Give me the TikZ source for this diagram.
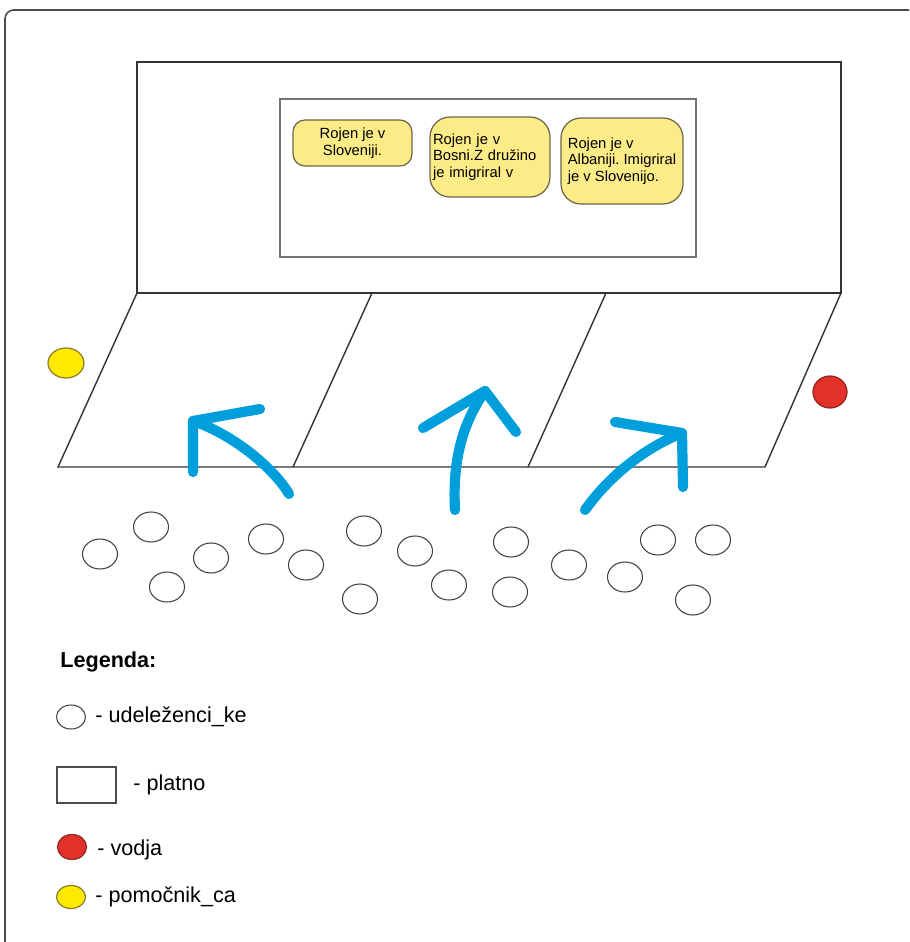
\documentclass[tikz,border=0pt]{standalone}
\usepackage{fontspec}
\setmainfont{Liberation Sans}
\definecolor{sweepblue}{RGB}{0,158,219}
\definecolor{notefill}{RGB}{252,236,135}
\definecolor{notedraw}{RGB}{110,100,70}
\definecolor{leaderred}{RGB}{226,48,42}
\definecolor{leaderdraw}{RGB}{140,40,32}
\definecolor{helperyellow}{RGB}{255,233,0}
\definecolor{helperdraw}{RGB}{140,125,40}
\frenchspacing
\begin{document}
\begin{tikzpicture}[x=0.02cm, y=-0.02cm,
    wall/.style={draw=black!80, line width=0.8pt},
    guest/.style={draw=black!75, line width=0.6pt},
    leader/.style={draw=leaderdraw, fill=leaderred, line width=0.7pt},
    helper/.style={draw=helperdraw, fill=helperyellow, line width=0.7pt},
    sweep/.style={draw=sweepblue, line width=5.8pt, line cap=round, line join=round},
    note/.style={draw=notedraw, fill=notefill, line width=0.7pt, inner ysep=0pt,
      font=\fontsize{8.4}{9.5}\selectfont},
    legend/.style={anchor=west, inner sep=0pt, font=\fontsize{12.3}{14}\selectfont}]
  \useasboundingbox (0,0) rectangle (909,942);
  \clip (0,0) rectangle (909,942);
  % outer frame
  \draw[black!70, line width=0.9pt, rounded corners=5pt] (5,10) rectangle (930,960);

  % back wall with the screen
  \draw[wall] (137,62) rectangle (841,293);
  \draw[black!55, line width=0.6pt] (280,99) rectangle (696,257);

  % notes on the screen
  \node[note, rounded corners=0.24cm, minimum width=2.38cm, minimum height=0.92cm,
    align=center] (slo) at (352.5,143) {Rojen je v\\ Sloveniji.};
  \node[note, rounded corners=0.4cm, minimum height=1.6cm, text width=2.28cm,
    inner xsep=0.06cm, align=left] (bih) at (490,157)
    {Rojen je v\\ Bosni.Z družino\\ je imigriral v};
  \node[note, rounded corners=0.4cm, minimum width=2.44cm, minimum height=1.72cm,
    align=left] (alb) at (622,161)
    {Rojen je v\\ Albaniji. Imigriral\\ je v Slovenijo.};

  % floor in three parts
  \draw[wall] (137,293) -- (841,293) -- (765,467) -- (58,467) -- cycle;
  \draw[wall] (372,293) -- (293,467);
  \draw[wall] (606,293) -- (528,467);

  % helper and leader
  \draw[helper] (66,363) ellipse [x radius=18, y radius=15];
  \draw[leader] (830,392) ellipse [x radius=17, y radius=16];

  % arrows
  \draw[sweep] (289,494) .. controls (275,470) and (235,435) .. (193,421);
  \draw[sweep] (260,409) -- (193,421) -- (193,472);
  \draw[sweep] (455,510) .. controls (452,455) and (465,420) .. (485,391);
  \draw[sweep] (423,428) -- (485,391) -- (516,432);
  \draw[sweep] (585,510) .. controls (610,475) and (645,448) .. (682,433);
  \draw[sweep] (615,422) -- (682,433) -- (683,487);

  % participants
  \foreach \gx/\gy in {100/554, 151/527, 167/587, 211/558, 266/539, 306/565,
      364/531, 360/599, 415/551, 449/585, 511/542, 510/592, 569/565,
      625/577, 658/540, 713/540, 693/600}
    \draw[guest] (\gx,\gy) ellipse [x radius=17.5, y radius=15];

  % legend
  \node[legend, font=\bfseries\fontsize{12.3}{14}\selectfont] (legtitle) at (60,662) {Legenda:};
  \draw[guest] (71,717) ellipse [x radius=14.5, y radius=12];
  \node[legend] (legguest) at (95,717) {- udeleženci\_ke};
  \draw[black!70, line width=0.6pt] (57,767) rectangle (116,803);
  \node[legend] (legscreen) at (133,785) {- platno};
  \draw[leader] (72,847) ellipse [x radius=14.5, y radius=12.5];
  \node[legend] (legleader) at (97,850) {- vodja};
  \draw[helper] (71,897) ellipse [x radius=14.5, y radius=11.5];
  \node[legend] (leghelper) at (95,897) {- pomočnik\_ca};
\end{tikzpicture}
\end{document}
